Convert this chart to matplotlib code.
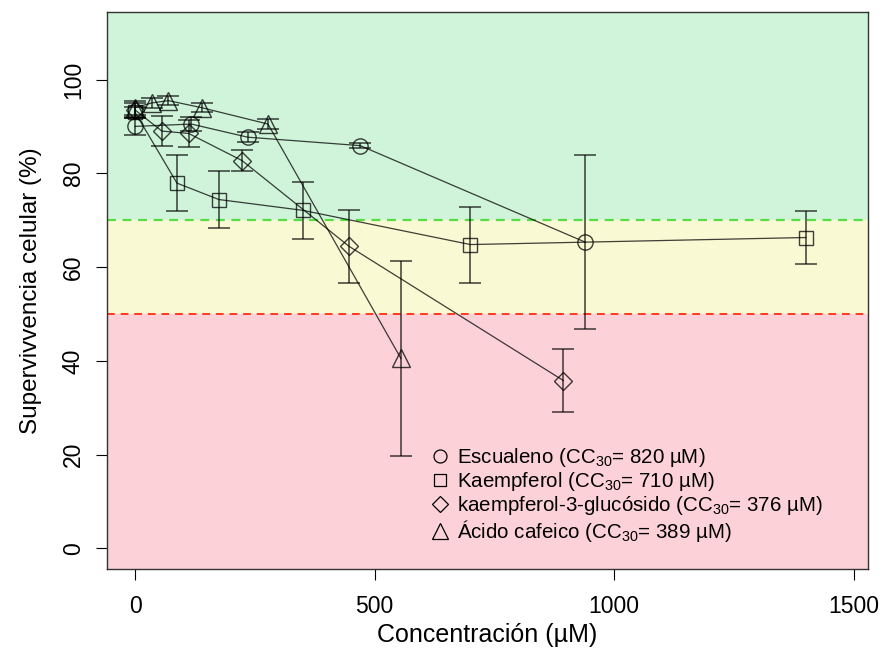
import matplotlib
matplotlib.use("Agg")
import matplotlib.pyplot as plt
from matplotlib.lines import Line2D

plt.rcParams['font.family'] = ['Liberation Sans', 'DejaVu Sans']
plt.rcParams['mathtext.fontset'] = 'custom'
plt.rcParams['mathtext.rm'] = 'Liberation Sans'
plt.rcParams['mathtext.it'] = 'Liberation Sans'

# data (concentration in uM, survival in %)
escualeno_x = [0, 117.5, 235, 470, 940]
escualeno_y = [90.0, 90.5, 87.7, 85.9, 65.3]
escualeno_err = [1.8, 1.5, 1.1, 0.5, 18.6]

kaempferol_x = [0, 87.5, 175, 350, 700, 1400]
kaempferol_y = [93.0, 77.9, 74.4, 72.1, 64.8, 66.3]
kaempferol_err = [1.2, 6.0, 6.0, 6.1, 8.1, 5.7]

k3g_x = [0, 55.9, 111.75, 223.5, 447, 894]
k3g_y = [93.5, 89.0, 88.5, 82.7, 64.4, 35.8]
k3g_err = [1.5, 3.2, 2.8, 2.2, 7.7, 6.8]

cafeico_x = [0, 34.7, 69.4, 138.75, 277.5, 555]
cafeico_y = [94.0, 95.0, 95.5, 94.0, 90.5, 40.5]
cafeico_err = [1.5, 1.0, 1.0, 1.0, 1.0, 20.7]

labels = [
    r"Escualeno (CC$_{30}$= 820 µM)",
    r"Kaempferol (CC$_{30}$= 710 µM)",
    r"kaempferol-3-glucósido (CC$_{30}$= 376 µM)",
    r"Ácido cafeico (CC$_{30}$= 389 µM)",
]

fig = plt.figure(figsize=(8.86, 6.52), dpi=100)
ax = fig.add_axes([0.1208, 0.1273, 0.8589, 0.8543])

xmin, xmax = -58.5, 1530
ymin, ymax = -4.4, 114.4

# zones
ax.axhspan(70, ymax, color='#d0f4da', zorder=0)
ax.axhspan(50, 70, color='#f9f9d3', zorder=0)
ax.axhspan(ymin, 50, color='#fcd2d8', zorder=0)
ax.axhline(70, color='#55dd44', lw=1.6, dashes=(4, 3), zorder=1)
ax.axhline(50, color='#ff3b22', lw=1.4, dashes=(4, 3), zorder=1)

ink = (0.0, 0.0, 0.0, 0.75)
series = [
    (escualeno_x, escualeno_y, escualeno_err, 'o', 11),
    (kaempferol_x, kaempferol_y, kaempferol_err, 's', 10),
    (k3g_x, k3g_y, k3g_err, 'D', 9),
    (cafeico_x, cafeico_y, cafeico_err, '^', 13),
]
handles = []
for (x, y, e, m, ms), lab in zip(series, labels):
    ax.errorbar(x, y, yerr=e, fmt='none', ecolor=ink, elinewidth=1.1,
                capsize=8, capthick=1.1, zorder=2)
    ax.plot(x, y, color=ink, lw=0.9, marker=m, ms=ms, mfc='none',
            mec=ink, mew=1.0, zorder=3)
    handles.append(Line2D([], [], ls='none', marker=m, ms=ms * 0.85,
                          mfc='none', mec='black', mew=0.9, label=lab))

ax.legend(handles=handles, loc='upper left', bbox_to_anchor=(0.424, 0.221),
          frameon=False, fontsize=14.8, handlelength=1.0, handletextpad=0.35,
          labelspacing=0.05, borderaxespad=0, borderpad=0)

ax.set_xlim(xmin, xmax)
ax.set_ylim(ymin, ymax)
ax.set_xticks([0, 500, 1000, 1500])
ax.set_yticks([0, 20, 40, 60, 80, 100])
ax.tick_params(axis='both', labelsize=16.5, length=8, width=0.8)
ax.tick_params(axis='x', pad=11)
ax.tick_params(axis='y', pad=8)
for t in ax.get_yticklabels():
    t.set_rotation(90)
    t.set_va('center')
ax.set_xlabel("Concentración (µM)", fontsize=18, labelpad=3)
ax.set_ylabel("Supervivvencia celular (%)", fontsize=17.5, labelpad=14)
for s in ax.spines.values():
    s.set_linewidth(1.0)
    s.set_color('#333333')

fig.savefig("out.png", dpi=100)
